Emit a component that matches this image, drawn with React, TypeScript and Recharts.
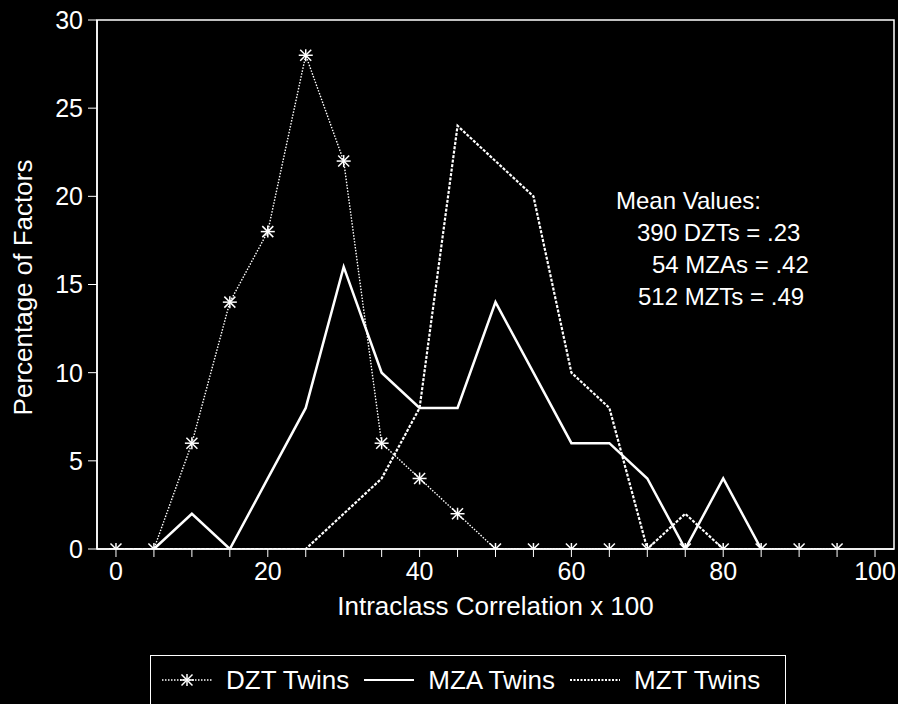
import { LineChart, Line, XAxis, YAxis, ReferenceArea, Legend } from 'recharts';

const corrValues = [0, 5, 10, 15, 20, 25, 30, 35, 40, 45, 50, 55, 60, 65, 70, 75, 80, 85, 90, 95];
const dztTwins = [0, 0, 6, 14, 18, 28, 22, 6, 4, 2, 0, 0, 0, 0, 0, 0, 0, 0, 0, 0];
const mzaTwins = [null, 0, 2, 0, 4, 8, 16, 10, 8, 8, 14, 10, 6, 6, 4, 0, 4, 0, null, null];
const mztTwins = [0, 0, 0, 0, 0, 0, 2, 4, 8, 24, 22, 20, 10, 8, 0, 2, 0, 0, null, null];

const xTicks = [0, 5, 10, 15, 20, 25, 30, 35, 40, 45, 50, 55, 60, 65, 70, 75, 80, 85, 90, 95, 100];
const yTicks = [0, 5, 10, 15, 20, 25, 30];

const seriesNames = ['DZT Twins', 'MZA Twins', 'MZT Twins'];
const meanLines = ['Mean Values:', '390 DZTs = .23', '54 MZAs = .42', '512 MZTs = .49'];

const data = corrValues.map((x, i) => ({
  x,
  dzt: dztTwins[i],
  mza: mzaTwins[i],
  mzt: mztTwins[i],
}));

const FONT = "'Liberation Sans', Arial, Helvetica, sans-serif";

const Asterisk = (props: any) => {
  const { cx, cy, index } = props;
  if (cx == null || cy == null) return <g key={`a-${index}`} />;
  return (
    <g key={`a-${index}`} stroke="#fff" strokeWidth={1.5}>
      <line x1={cx - 7} y1={cy} x2={cx + 7} y2={cy} />
      <line x1={cx} y1={cy - 6} x2={cx} y2={cy + 6} />
      <line x1={cx - 5.5} y1={cy - 5.5} x2={cx + 5.5} y2={cy + 5.5} />
      <line x1={cx - 5.5} y1={cy + 5.5} x2={cx + 5.5} y2={cy - 5.5} />
    </g>
  );
};

const XTitle = (props: any) => {
  const vb = props.viewBox || { x: 97, y: 549, width: 797 };
  return (
    <text x={vb.x + vb.width / 2} y={vb.y + 66} textAnchor="middle" fill="#fff" fontSize={26} fontFamily={FONT}>
      Intraclass Correlation x 100
    </text>
  );
};

const YTitle = (props: any) => {
  const vb = props.viewBox || { x: 0, y: 20, height: 529 };
  const cx = 32;
  const cy = vb.y + vb.height / 2 + 3;
  return (
    <text x={cx} y={cy} transform={`rotate(-90 ${cx} ${cy})`} textAnchor="middle" fill="#fff" fontSize={26} fontFamily={FONT}>
      Percentage of Factors
    </text>
  );
};

const LegendSample = ({ idx }: { idx: number }) => (
  <svg width={50} height={20} style={{ display: 'block' }}>
    {idx === 0 && (
      <>
        <line x1={0} y1={10} x2={50} y2={10} stroke="#fff" strokeWidth={1.3} strokeDasharray="1.5 1.5" />
        <Asterisk cx={25} cy={10} index={0} />
      </>
    )}
    {idx === 1 && <line x1={0} y1={10} x2={50} y2={10} stroke="#fff" strokeWidth={2.2} />}
    {idx === 2 && <line x1={0} y1={10} x2={50} y2={10} stroke="#fff" strokeWidth={1.8} strokeDasharray="2 1.5" />}
  </svg>
);

const renderLegend = () => (
  <div
    style={{
      boxSizing: 'border-box',
      width: 636,
      height: 49,
      border: '1.5px solid #fff',
      borderBottom: 'none',
      display: 'flex',
      alignItems: 'center',
      paddingLeft: 11,
      color: '#fff',
      fontSize: 26,
      fontFamily: FONT,
    }}
  >
    {seriesNames.map((name, i) => (
      <div key={name} style={{ display: 'flex', alignItems: 'center', marginRight: 15 }}>
        <LegendSample idx={i} />
        <span style={{ marginLeft: 14, whiteSpace: 'nowrap' }}>{name}</span>
      </div>
    ))}
  </div>
);

const meanPos = [
  { x: 616, y: 209 },
  { x: 637, y: 241 },
  { x: 652, y: 273 },
  { x: 638, y: 305 },
];

export default function App() {
  return (
    <div style={{ position: 'absolute', left: 0, top: 0, width: 898, height: 704, background: '#000', fontFamily: FONT }}>
      <LineChart width={898} height={704} data={data} margin={{ top: 20, right: 4, left: 0, bottom: 0 }}>
        <XAxis
          dataKey="x"
          type="number"
          domain={[-2.5, 102.5]}
          allowDataOverflow
          ticks={xTicks}
          tickFormatter={(v: number) => (v % 20 === 0 ? String(v) : '')}
          interval={0}
          height={106}
          stroke="#fff"
          tickSize={8}
          tickMargin={5}
          tick={{ fill: '#fff', fontSize: 25, fontFamily: FONT }}
          axisLine={{ stroke: '#fff', strokeWidth: 1.5 }}
          tickLine={{ stroke: '#fff' }}
          label={<XTitle />}
        />
        <YAxis
          type="number"
          domain={[0, 30]}
          allowDataOverflow
          ticks={yTicks}
          interval={0}
          width={97}
          stroke="#fff"
          tickSize={9}
          tickMargin={5}
          tick={{ fill: '#fff', fontSize: 25, fontFamily: FONT }}
          axisLine={{ stroke: '#fff', strokeWidth: 1.5 }}
          tickLine={{ stroke: '#fff' }}
          label={<YTitle />}
        />
        <ReferenceArea x1={-2.5} x2={102.5} y1={0} y2={30} stroke="#fff" strokeWidth={1.5} fill="none" fillOpacity={0} />
        <Line
          dataKey="mzt"
          name={seriesNames[2]}
          stroke="#fff"
          strokeWidth={2.2}
          strokeDasharray="3 1.5"
          dot={false}
          isAnimationActive={false}
        />
        <Line
          dataKey="mza"
          name={seriesNames[1]}
          stroke="#fff"
          strokeWidth={2.5}
          dot={false}
          isAnimationActive={false}
        />
        <Line
          dataKey="dzt"
          name={seriesNames[0]}
          stroke="#fff"
          strokeWidth={1.4}
          strokeDasharray="1.5 1.5"
          dot={(p: any) => <Asterisk key={`d-${p.index}`} {...p} />}
          isAnimationActive={false}
        />
        {meanLines.map((t, i) => (
          <text key={t} x={meanPos[i].x} y={meanPos[i].y} fill="#fff" fontSize={24} fontFamily={FONT}>
            {t}
          </text>
        ))}
        <Legend
          content={renderLegend}
          verticalAlign="bottom"
          align="left"
          height={49}
          wrapperStyle={{ left: 150, top: 655, width: 636, height: 49 }}
        />
      </LineChart>
    </div>
  );
}
